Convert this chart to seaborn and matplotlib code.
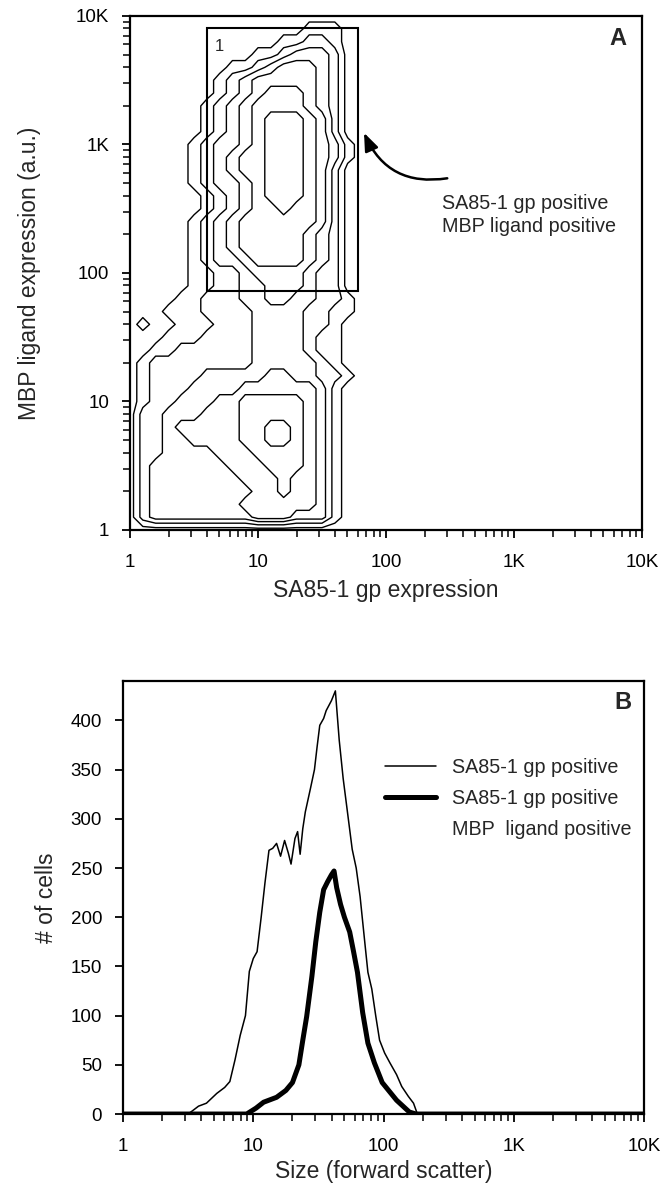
import numpy as np
import pandas as pd
import matplotlib
matplotlib.use("Agg")
import matplotlib.pyplot as plt
import seaborn as sns
from matplotlib.patches import Rectangle
from matplotlib.lines import Line2D
from matplotlib.ticker import FixedLocator, FixedFormatter, LogLocator, NullFormatter

# ---- panel A: contour level read on a 0.1-decade grid (rows = MBP, top -> bottom) ----
sa85_decades = [0.0, 0.1, 0.2, 0.3, 0.4, 0.5, 0.6, 0.7, 0.8, 0.9, 1.0,
                1.1, 1.2, 1.3, 1.4, 1.5, 1.6, 1.7, 1.8, 1.9, 2.0]
mbp_decades = [4.0, 3.9, 3.8, 3.7, 3.6, 3.5, 3.4, 3.3, 3.2, 3.1, 3.0,
               2.9, 2.8, 2.7, 2.6, 2.5, 2.4, 2.3, 2.2, 2.1, 2.0,
               1.9, 1.8, 1.7, 1.6, 1.5, 1.4, 1.3, 1.2, 1.1, 1.0,
               0.9, 0.8, 0.7, 0.6, 0.5, 0.4, 0.3, 0.2, 0.1, 0.0]
contour_rows = [
    "000000000000000000000",
    "000000000000001110000",
    "000000000000112210000",
    "000000000011233320000",
    "000000001123444320000",
    "000000012344444320000",
    "000000012345554320000",
    "000000123455554320000",
    "000000123456665420000",
    "000000123456665420000",
    "000001233456665431000",
    "000001234556665431000",
    "000001234556665420000",
    "000001233456665420000",
    "000000123456665420000",
    "000000123455655420000",
    "000001234555555420000",
    "000001234555554320000",
    "000001234555554320000",
    "000001233455554320000",
    "000001122344443220000",
    "000001122334443220000",
    "000011222334433221000",
    "000111222233332211000",
    "010011122233332210000",
    "000111222233332110000",
    "001122222233332110000",
    "012222222233333210000",
    "012222333334433221000",
    "012223333444444310000",
    "012233344555554310000",
    "022333444555554310000",
    "022344444556654310000",
    "022334444556654310000",
    "022333344455554310000",
    "023333334445554310000",
    "023333333444544310000",
    "023333333344544310000",
    "023333333444444310000",
    "023333333344433310000",
    "000000000000000000000",
]
gate_x = [4.0, 60.0]
gate_y = [72.0, 8100.0]

# ---- panel B: forward scatter histograms ----
thin_size = [1, 3.16, 3.47, 3.80, 4.37, 4.79, 5.25, 6.03, 6.61, 7.24,
             7.94, 8.71, 9.33, 10.0, 10.7, 11.5, 12.3, 13.2, 14.1, 15.1,
             16.2, 17.4, 18.6, 19.5, 20.9, 21.9, 22.9, 24.0, 25.1, 27.5,
             29.5, 30.9, 32.4, 34.7, 36.3, 39.8, 42.7, 45.7, 49.0, 52.5,
             57.5, 61.7, 66.1, 72.4, 75.9, 81.3, 87.1, 93.3, 102, 112,
             126, 138, 155, 170, 182, 10000]
thin_count = [0, 0, 4, 8, 11, 16, 21, 27, 33, 55,
              80, 100, 145, 158, 165, 200, 235, 268, 270, 275,
              262, 278, 265, 254, 280, 287, 264, 290, 307, 331,
              350, 373, 395, 402, 410, 420, 430, 380, 341, 310,
              269, 250, 221, 170, 144, 127, 100, 75, 62, 52,
              40, 28, 18, 11, 0, 0]
thick_size = [1, 8.9, 10.5, 12.0, 15.1, 17.8, 20.0, 22.4, 24.0, 25.7,
              28.2, 30.2, 32.4, 34.7, 37.2, 39.8, 41.7, 43.7, 46.8, 50.1,
              55.0, 58.9, 63.1, 69.2, 75.9, 85.1, 97.7, 126, 158, 178, 10000]
thick_count = [0, 0, 6, 12, 17, 24, 32, 50, 75, 99,
               140, 175, 205, 228, 236, 243, 247, 230, 213, 200,
               185, 165, 144, 103, 72, 52, 32, 14, 2, 0, 0]

log_ticks = [1, 10, 100, 1000, 10000]
log_labels = ["1", "10", "100", "1K", "10K"]
count_ticks = [0, 50, 100, 150, 200, 250, 300, 350, 400]

sns.set_theme(style="ticks")
plt.rcParams['font.family'] = ['Liberation Sans', 'DejaVu Sans']


def style_axes(ax):
    for sp in ax.spines.values():
        sp.set_visible(True)
        sp.set_linewidth(1.6)
        sp.set_color("black")
    ax.tick_params(which="major", direction="out", length=6, width=1.3,
                   colors="black", labelsize=13.5)
    ax.tick_params(which="minor", direction="out", length=5, width=1.1,
                   colors="black")


def log_axis(axis):
    axis.set_major_locator(FixedLocator(log_ticks))
    axis.set_major_formatter(FixedFormatter(log_labels))
    axis.set_minor_locator(LogLocator(base=10, subs=range(2, 10)))
    axis.set_minor_formatter(NullFormatter())


fig = plt.figure(figsize=(6.61, 11.83), dpi=100)
axA = fig.add_axes([0.1967, 0.5520, 0.7746, 0.4345])
axB = fig.add_axes([0.1861, 0.0583, 0.7882, 0.3660])

# ---------------- panel A ----------------
Z = np.array([[int(c) for c in row] for row in contour_rows])
X, Y = np.meshgrid(10 ** np.array(sa85_decades), 10 ** np.array(mbp_decades))
axA.contour(X, Y, Z, levels=[0.5, 1.5, 2.5, 3.5, 4.5, 5.5],
            colors="black", linewidths=1.0)
axA.add_patch(Rectangle((gate_x[0], gate_y[0]), gate_x[1] - gate_x[0],
                        gate_y[1] - gate_y[0], fill=False,
                        edgecolor="black", linewidth=1.5))
axA.text(5.0, 5750, "1", fontsize=12, ha="center", va="center")
axA.set_xscale("log")
axA.set_yscale("log")
axA.set_xlim(1, 10000)
axA.set_ylim(1, 10000)
log_axis(axA.xaxis)
log_axis(axA.yaxis)
style_axes(axA)
axA.tick_params(axis="x", which="major", pad=11)
axA.tick_params(axis="y", which="major", pad=9)
axA.set_xlabel("SA85-1 gp expression", fontsize=16.5, labelpad=6)
axA.set_ylabel("MBP ligand expression (a.u.)", fontsize=16.5, labelpad=25)
axA.text(0.953, 0.957, "A", transform=axA.transAxes, fontsize=17,
         fontweight="bold", ha="center", va="center")
axA.annotate("", xy=(66, 1290), xytext=(316, 550),
             arrowprops=dict(arrowstyle="-|>,head_length=0.9,head_width=0.35",
                             connectionstyle="arc3,rad=-0.4",
                             color="black", lw=1.8))
axA.text(273, 282, "SA85-1 gp positive\nMBP ligand positive", fontsize=14.2,
         ha="left", va="center", linespacing=1.25)

# ---------------- panel B ----------------
thin_df = pd.DataFrame({"size": thin_size, "cells": thin_count})
thick_df = pd.DataFrame({"size": thick_size, "cells": thick_count})
sns.lineplot(data=thin_df, x="size", y="cells", ax=axB, color="black",
             linewidth=1.1, estimator=None, sort=False)
sns.lineplot(data=thick_df, x="size", y="cells", ax=axB, color="black",
             linewidth=3.6, estimator=None, sort=False)
axB.set_xscale("log")
axB.set_xlim(1, 10000)
axB.set_ylim(0, 440)
log_axis(axB.xaxis)
axB.yaxis.set_major_locator(FixedLocator(count_ticks))
style_axes(axB)
axB.tick_params(axis="x", which="major", pad=11)
axB.tick_params(axis="y", which="major", pad=9)
axB.set_xlabel("Size (forward scatter)", fontsize=16.5, labelpad=4)
axB.set_ylabel("# of cells", fontsize=16.5, labelpad=9)
axB.text(0.96, 0.951, "B", transform=axB.transAxes, fontsize=17,
         fontweight="bold", ha="center", va="center")
handles = [Line2D([], [], color="black", linewidth=1.1),
           Line2D([], [], color="black", linewidth=3.6),
           Line2D([], [], color="none")]
labels = ["SA85-1 gp positive", "SA85-1 gp positive", "MBP  ligand positive"]
axB.legend(handles, labels, loc="upper left", bbox_to_anchor=(0.503, 0.823),
           frameon=False, fontsize=14.2, handlelength=2.6, handletextpad=0.8,
           labelspacing=0.62, borderaxespad=0, borderpad=0)

fig.savefig("out.png", dpi=100)
